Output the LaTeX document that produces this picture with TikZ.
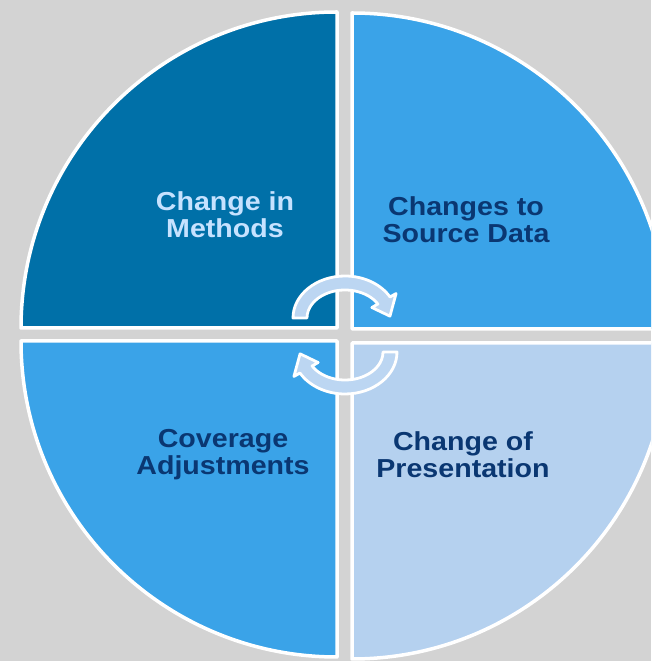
\documentclass[tikz,border=0pt]{standalone}
\usepackage{fontspec}
\setmainfont{Liberation Sans}
\usepackage{xcolor}
\usepackage{tikz}
\usetikzlibrary{calc}
\definecolor{bg}{HTML}{D3D3D3}
\definecolor{deep}{HTML}{0070A8}
\definecolor{mid}{HTML}{3AA3E8}
\definecolor{pale}{HTML}{B5D1EF}
\definecolor{arrowfill}{HTML}{BCD6F2}
\definecolor{lighttext}{HTML}{C6E2FF}
\definecolor{darktext}{HTML}{0A3772}
\tikzset{
  sector/.style={draw=white, line width=3.5pt, line join=round},
  cyclearrow/.style={draw=white, fill=arrowfill, line width=2.8pt, line join=round},
  lab/.style={font=\fontsize{26}{27}\selectfont\bfseries, align=center, inner sep=0pt,
    xscale=1.1, transform shape},
}
\begin{document}
\begin{tikzpicture}[x=1pt, y=1pt]
  \def\r{316}
  \fill[bg] (0,0) rectangle (651,661);
  \useasboundingbox (0,0) rectangle (651,661);
  \clip (0,0) rectangle (651,661);
  % corners of the four quarters
  \coordinate (tl) at (337,333);
  \coordinate (tr) at (352,332);
  \coordinate (bl) at (337,320);
  \coordinate (br) at (352,318);
  \coordinate (gap) at (345,326);
  \filldraw[sector, fill=deep] (tl) -- ++(180:\r) arc[start angle=180, end angle=90, radius=\r] -- cycle;
  \filldraw[sector, fill=mid]  (tr) -- ++(90:\r)  arc[start angle=90, end angle=0, radius=\r] -- cycle;
  \filldraw[sector, fill=mid]  (bl) -- ++(270:\r) arc[start angle=270, end angle=180, radius=\r] -- cycle;
  \filldraw[sector, fill=pale] (br) -- ++(0:\r)   arc[start angle=0, end angle=-90, radius=\r] -- cycle;
  % cycle arrows
  \foreach \rot in {0,180}{
    \begin{scope}[rotate around={\rot:(gap)}]
      \coordinate (ac) at (345,343);
      \path[cyclearrow] ($(ac)+(180:52 and 42)$)
        arc[start angle=180, end angle=30, x radius=52, y radius=42]
        -- ($(ac)+(30:59 and 49)$) -- ($(ac)+(3:45 and 35)$) -- ($(ac)+(30:31 and 21)$)
        -- ($(ac)+(30:38 and 28)$)
        arc[start angle=30, end angle=180, x radius=38, y radius=28] -- cycle;
    \end{scope}
  }
  \node[lab, text=lighttext] (methods)  at (225,446) {Change in\\Methods};
  \node[lab, text=darktext]  (source)   at (466,441) {Changes to\\Source Data};
  \node[lab, text=darktext]  (coverage) at (223,206) {Coverage\\Adjustments};
  \node[lab, text=darktext]  (present)  at (463,206) {Change of\\Presentation};
\end{tikzpicture}
\end{document}
